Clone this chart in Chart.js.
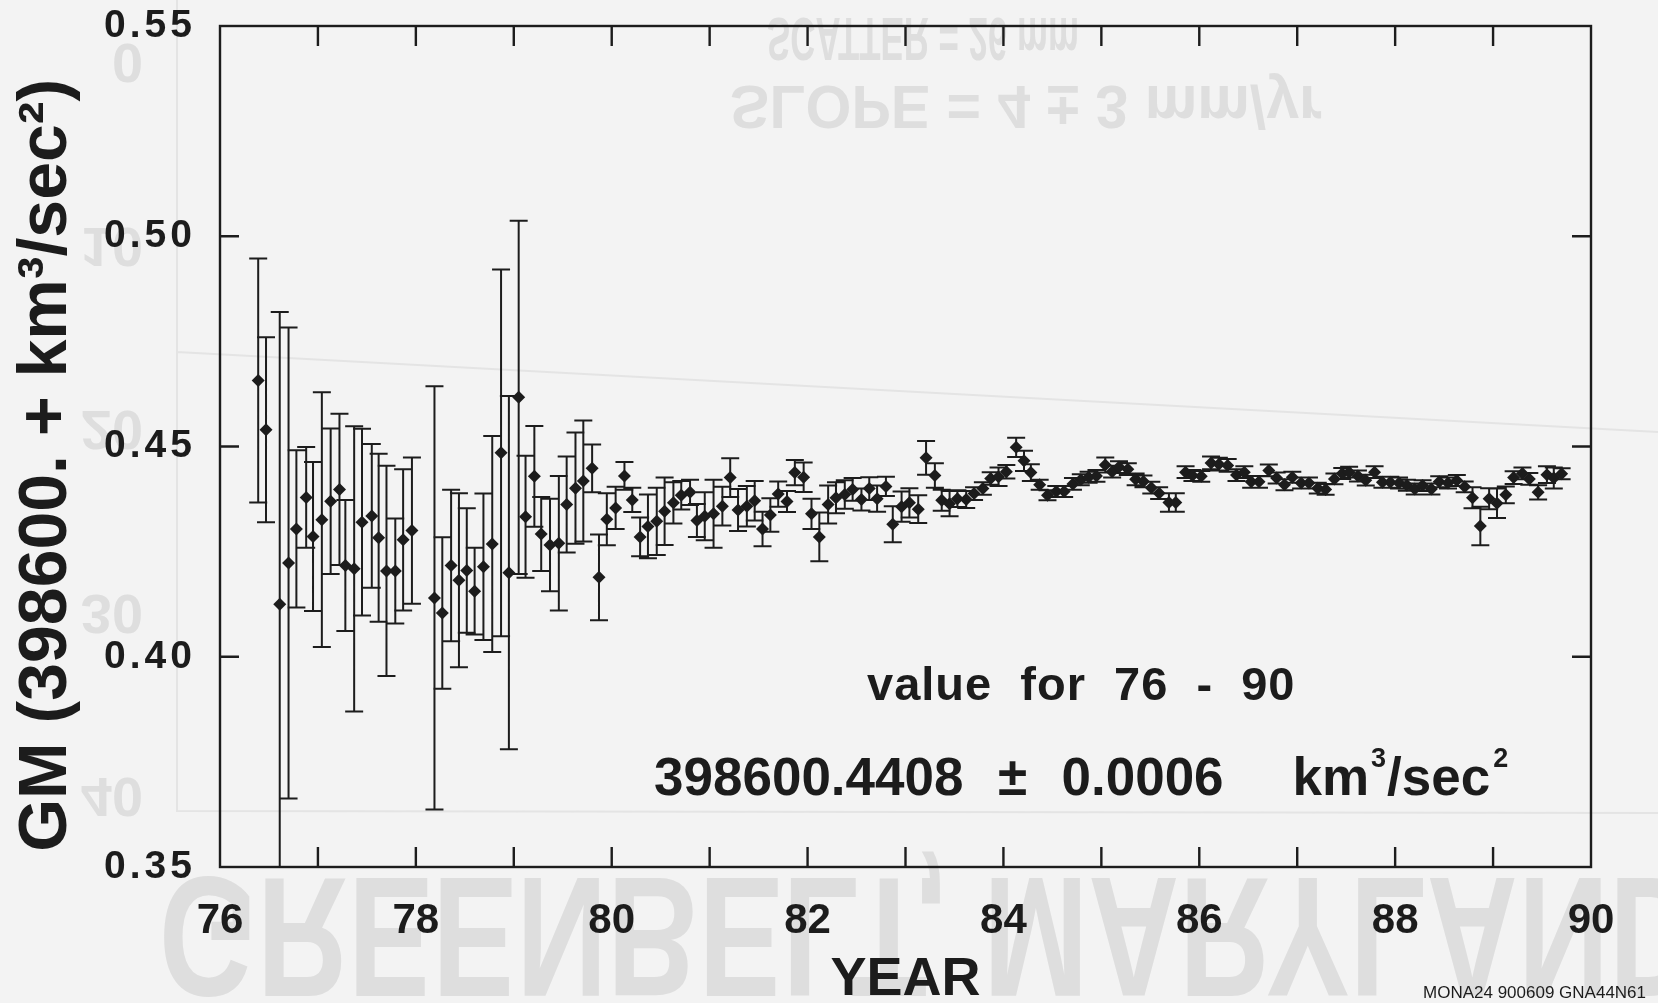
<!DOCTYPE html>
<html>
<head>
<meta charset="utf-8">
<title>GM 1976-1990</title>
<script src="https://cdn.jsdelivr.net/npm/chart.js@4.4.0/dist/chart.umd.min.js"></script>
<style>
    html, body { margin: 0; padding: 0; background: #f3f3f3; }
    canvas { display: block; }
</style>
</head>
<body>
<canvas id="gm_chart" width="1658" height="1003"></canvas>
<script>
// monthly solutions, year (19xx)
var years = [
    76.39, 76.47, 76.61, 76.70, 76.78, 76.88, 76.95, 77.04, 77.13, 77.22,
    77.28, 77.37, 77.45, 77.55, 77.62, 77.70, 77.79, 77.87, 77.96,
    78.19, 78.27, 78.36, 78.44, 78.52, 78.60, 78.69, 78.78, 78.87, 78.95,
    79.05, 79.12, 79.21, 79.28, 79.37, 79.46, 79.54, 79.63, 79.71, 79.80,
    79.87, 79.95, 80.04, 80.13, 80.21, 80.29, 80.37, 80.46, 80.54, 80.63,
    80.71, 80.80, 80.87, 80.95, 81.04, 81.13, 81.21, 81.29, 81.38, 81.46,
    81.54, 81.62, 81.70, 81.79, 81.87, 81.96, 82.04, 82.12, 82.21, 82.29,
    82.38, 82.46, 82.55, 82.63, 82.71, 82.80, 82.87, 82.96, 83.04, 83.13,
    83.21, 83.30, 83.37, 83.45, 83.53, 83.62, 83.70, 83.79, 83.87, 83.95,
    84.03, 84.13, 84.21, 84.28, 84.37, 84.45, 84.54, 84.62, 84.71, 84.79,
    84.87, 84.95, 85.04, 85.11, 85.18, 85.27, 85.35, 85.43, 85.51, 85.59,
    85.69, 85.76,
    85.86, 85.93, 86.02, 86.12, 86.20, 86.29, 86.38, 86.46, 86.53, 86.61,
    86.71, 86.79, 86.87, 86.95, 87.04, 87.12, 87.21, 87.29, 87.38, 87.46,
    87.53, 87.62, 87.70, 87.79, 87.87, 87.95, 88.04, 88.12, 88.20, 88.28,
    88.37, 88.45, 88.54, 88.63, 88.71, 88.79, 88.87, 88.96, 89.04, 89.13,
    89.21, 89.30, 89.37, 89.46, 89.55, 89.62, 89.70
];
// GM - 398600 (km^3/sec^2)
var gmValues = [
    0.4657, 0.4540, 0.4125, 0.4223, 0.4304, 0.4379, 0.4286, 0.4326, 0.4370, 0.4398,
    0.4217, 0.4209, 0.4320, 0.4335, 0.4283, 0.4204, 0.4204, 0.4278, 0.4300,
    0.4140, 0.4104, 0.4217, 0.4182, 0.4205, 0.4156, 0.4214, 0.4268, 0.4485, 0.4200,
    0.4617, 0.4333, 0.4429, 0.4292, 0.4266, 0.4270, 0.4362, 0.4401, 0.4418, 0.4448,
    0.4189, 0.4327, 0.4354, 0.4430, 0.4373, 0.4285, 0.4310, 0.4322, 0.4346, 0.4366,
    0.4384, 0.4391, 0.4324, 0.4334, 0.4340, 0.4358, 0.4426, 0.4349, 0.4358, 0.4371,
    0.4304, 0.4337, 0.4387, 0.4369, 0.4438, 0.4427, 0.4340, 0.4285, 0.4362, 0.4378,
    0.4386, 0.4398, 0.4374, 0.4400, 0.4376, 0.4405, 0.4315, 0.4357, 0.4366, 0.4351,
    0.4473, 0.4431, 0.4372, 0.4364, 0.4376, 0.4374, 0.4388, 0.4400, 0.4424, 0.4428,
    0.4440, 0.4498, 0.4466, 0.4438, 0.4409, 0.4384, 0.4393, 0.4393, 0.4411, 0.4421,
    0.4427, 0.4430, 0.4456, 0.4440, 0.4451, 0.4446, 0.4422, 0.4417, 0.4402, 0.4389,
    0.4367, 0.4367,
    0.4439, 0.4431, 0.4429, 0.4461, 0.4458, 0.4455, 0.4432, 0.4439, 0.4416, 0.4416,
    0.4443, 0.4425, 0.4409, 0.4427, 0.4413, 0.4413, 0.4401, 0.4398, 0.4423, 0.4436,
    0.4439, 0.4430, 0.4420, 0.4439, 0.4415, 0.4415, 0.4413, 0.4408, 0.4399, 0.4407,
    0.4399, 0.4416, 0.4413, 0.4419, 0.4404, 0.4378, 0.4311, 0.4376, 0.4365, 0.4385,
    0.4426, 0.4436, 0.4423, 0.4391, 0.4433, 0.4425, 0.4435
];
// one sigma
var gmErrors = [
    0.0290, 0.0220, 0.0695, 0.0560, 0.0187, 0.0120, 0.0177, 0.0303, 0.0173, 0.0180,
    0.0156, 0.0339, 0.0222, 0.0171, 0.0200, 0.0250, 0.0125, 0.0168, 0.0174,
    0.0503, 0.0180, 0.0180, 0.0207, 0.0148, 0.0103, 0.0174, 0.0257, 0.0436, 0.0420,
    0.0420, 0.0145, 0.0120, 0.0088, 0.0110, 0.0160, 0.0114, 0.0132, 0.0144, 0.0057,
    0.0102, 0.0062, 0.0050, 0.0033, 0.0029, 0.0046, 0.0076, 0.0080, 0.0080, 0.0049,
    0.0034, 0.0030, 0.0039, 0.0057, 0.0081, 0.0046, 0.0046, 0.0050, 0.0048, 0.0047,
    0.0041, 0.0040, 0.0030, 0.0025, 0.0030, 0.0035, 0.0036, 0.0058, 0.0045, 0.0037,
    0.0034, 0.0027, 0.0026, 0.0027, 0.0031, 0.0023, 0.0043, 0.0036, 0.0035, 0.0033,
    0.0040, 0.0029, 0.0025, 0.0030, 0.0020, 0.0020, 0.0015, 0.0015, 0.0015, 0.0022,
    0.0016, 0.0023, 0.0024, 0.0020, 0.0012, 0.0012, 0.0013, 0.0013, 0.0014, 0.0013,
    0.0013, 0.0014, 0.0018, 0.0014, 0.0014, 0.0014, 0.0014, 0.0014, 0.0014, 0.0014,
    0.0022, 0.0022,
    0.0014, 0.0013, 0.0013, 0.0015, 0.0015, 0.0015, 0.0014, 0.0014, 0.0014, 0.0014,
    0.0014, 0.0013, 0.0013, 0.0013, 0.0013, 0.0013, 0.0013, 0.0013, 0.0013, 0.0013,
    0.0013, 0.0013, 0.0013, 0.0014, 0.0013, 0.0013, 0.0013, 0.0013, 0.0013, 0.0013,
    0.0013, 0.0013, 0.0013, 0.0013, 0.0013, 0.0025, 0.0046, 0.0025, 0.0035, 0.0020,
    0.0015, 0.0014, 0.0014, 0.0017, 0.0020, 0.0025, 0.0013
];

var yearMarks = [76, 77, 78, 79, 80, 81, 82, 83, 84, 85, 86, 87, 88, 89, 90];
var yearLabels = [76, 78, 80, 82, 84, 86, 88, 90];
var gmTicks = [0.35, 0.40, 0.45, 0.50, 0.55];

var ink = '#1c1c1c';
var ghost = '#dedede';
var sans = '"Liberation Sans", Arial, Helvetica, sans-serif';

// 뒷면 비침 글자 (상하 반전)
function ghostText(ctx, text, x0, x1, yTop, capH) {
    ctx.font = 'bold ' + (capH / 0.716) + 'px ' + sans;
    var w = ctx.measureText(text).width;
    ctx.save();
    ctx.translate(x0, yTop);
    ctx.scale(x1 ? (x1 - x0) / w : 1, -1);
    ctx.textAlign = x1 ? 'left' : 'right';
    ctx.textBaseline = 'alphabetic';
    ctx.fillText(text, 0, 0);
    ctx.restore();
}

var paperPlugin = {
    id: 'paper',
    beforeDraw: function (chart) {
        var ctx = chart.ctx;
        ctx.save();
        ctx.letterSpacing = '0px';
        ctx.fillStyle = '#f3f3f3';
        ctx.fillRect(0, 0, chart.width, chart.height);
        ctx.fillStyle = ghost;
        ghostText(ctx, 'GREENBELT, MARYLAND', 159, 1700, 878, 122);
        ghostText(ctx, 'SCATTER = 26 mm', 767, 1079, 18, 44);
        ghostText(ctx, 'SLOPE = 4 \u00b1 3 mm/yr', 730, 1322, 86, 44);
        var ghostNums = ['0', '10', '20', '30', '40'];
        for (var i = 0; i < ghostNums.length; i++) {
            ghostText(ctx, ghostNums[i], 143, null, 44 + i * 183.5, 40);
        }
        ctx.strokeStyle = '#e4e4e4';
        ctx.lineWidth = 2;
        ctx.beginPath();
        ctx.moveTo(177, 0);
        ctx.lineTo(177, 811);
        ctx.lineTo(1658, 813);
        ctx.moveTo(177, 352);
        ctx.lineTo(1658, 432);
        ctx.stroke();
        ctx.restore();
    }
};

var errorBarPlugin = {
    id: 'errorBars',
    beforeDatasetsDraw: function (chart) {
        var ctx = chart.ctx, xs = chart.scales.x, ys = chart.scales.y, a = chart.chartArea;
        ctx.save();
        ctx.beginPath();
        ctx.rect(a.left, a.top, a.right - a.left, a.bottom - a.top);
        ctx.clip();
        ctx.strokeStyle = ink;
        ctx.lineWidth = 2;
        ctx.beginPath();
        for (var i = 0; i < years.length; i++) {
            var px = xs.getPixelForValue(years[i]);
            var top = ys.getPixelForValue(gmValues[i] + gmErrors[i]);
            var bot = ys.getPixelForValue(gmValues[i] - gmErrors[i]);
            ctx.moveTo(px, top); ctx.lineTo(px, bot);
            ctx.moveTo(px - 9, top); ctx.lineTo(px + 9, top);
            ctx.moveTo(px - 9, bot); ctx.lineTo(px + 9, bot);
        }
        ctx.stroke();
        ctx.restore();
    },
    afterDatasetsDraw: function (chart) {
        // y축 눈금 글자만 자간을 넓게 (ticks.z:1 이라 이 다음에 그려짐)
        chart.ctx.letterSpacing = '4px';
    }
};

var framePlugin = {
    id: 'frame',
    afterDraw: function (chart) {
        var ctx = chart.ctx, a = chart.chartArea, xs = chart.scales.x, ys = chart.scales.y;
        ctx.save();
        ctx.letterSpacing = '0px';
        ctx.strokeStyle = ink;
        ctx.lineWidth = 2.4;
        ctx.strokeRect(a.left, a.top, a.right - a.left, a.bottom - a.top);
        ctx.beginPath();
        xs.ticks.forEach(function (t) {
            var px = xs.getPixelForValue(t.value);
            if (px <= a.left + 1 || px >= a.right - 1) return;
            ctx.moveTo(px, a.bottom); ctx.lineTo(px, a.bottom - 20);
            ctx.moveTo(px, a.top); ctx.lineTo(px, a.top + 20);
        });
        ys.ticks.forEach(function (t) {
            var py = ys.getPixelForValue(t.value);
            if (py <= a.top + 1 || py >= a.bottom - 1) return;
            ctx.moveTo(a.left, py); ctx.lineTo(a.left + 19, py);
            ctx.moveTo(a.right, py); ctx.lineTo(a.right - 19, py);
        });
        ctx.stroke();

        // 평균값 주석
        ctx.fillStyle = ink;
        ctx.textAlign = 'left';
        ctx.textBaseline = 'alphabetic';
        ctx.letterSpacing = '1px';
        ctx.font = 'bold 47px ' + sans;
        ctx.fillText('value  for  76  -  90', 867, 700);
        ctx.letterSpacing = '0px';
        ctx.wordSpacing = '2.5px';
        ctx.font = 'bold 53px ' + sans;
        var s1 = '398600.4408  \u00b1  0.0006    km';
        ctx.fillText(s1, 654, 795);
        var xKm = 654 + ctx.measureText(s1).width;
        ctx.wordSpacing = '0px';
        ctx.fillText('/sec', xKm + 18, 795);
        var xSec = xKm + 18 + ctx.measureText('/sec').width;
        ctx.font = 'bold 27px ' + sans;
        ctx.fillText('3', xKm + 2, 767);
        ctx.fillText('2', xSec + 3, 767);

        ctx.font = '17px ' + sans;
        ctx.fillText('MONA24 900609 GNA44N61', 1423, 998);
        ctx.restore();
    }
};

var points = years.map(function (yr, i) {
    return {x: yr, y: gmValues[i]};
});

new Chart(document.getElementById('gm_chart').getContext('2d'), {
    type: 'scatter',
    data: {
        datasets: [{
            data: points,
            pointStyle: 'rectRot',
            pointRadius: 6.5,
            pointBackgroundColor: ink,
            pointBorderColor: ink,
            pointBorderWidth: 0,
            showLine: false
        }]
    },
    options: {
        responsive: false,
        animation: false,
        devicePixelRatio: 1,
        layout: {padding: {left: 0, right: 67, top: 26, bottom: 0}},
        plugins: {legend: {display: false}, tooltip: {enabled: false}},
        scales: {
            x: {
                type: 'linear',
                min: 76,
                max: 90,
                grid: {display: false},
                border: {display: false},
                afterBuildTicks: function (scale) {
                    scale.ticks = yearMarks.map(function (v) { return {value: v}; });
                },
                afterFit: function (scale) {
                    scale.height = 136;
                    scale.paddingLeft = 0;
                    scale.paddingRight = 0;
                },
                ticks: {
                    autoSkip: false,
                    maxRotation: 0,
                    padding: 21,
                    color: ink,
                    font: {family: sans, size: 42, weight: 'bold'},
                    callback: function (v) {
                        return yearLabels.indexOf(v) >= 0 ? String(v) : '';
                    }
                },
                title: {
                    display: true,
                    text: 'YEAR',
                    color: ink,
                    font: {family: sans, size: 54, weight: 'bold', lineHeight: 0.8},
                    padding: {top: 0, bottom: 1}
                }
            },
            y: {
                type: 'linear',
                min: 0.35,
                max: 0.55,
                grid: {display: false},
                border: {display: false},
                afterBuildTicks: function (scale) {
                    scale.ticks = gmTicks.map(function (v) { return {value: v}; });
                },
                afterFit: function (scale) {
                    scale.width = 220;
                    scale.paddingTop = 0;
                    scale.paddingBottom = 0;
                },
                ticks: {
                    z: 1,
                    padding: 16,
                    color: ink,
                    font: {family: sans, size: 39, weight: 'bold'},
                    callback: function (v) { return v.toFixed(2); }
                },
                title: {
                    display: true,
                    text: 'GM (398600. + km\u00b3/sec\u00b2)  ',
                    color: ink,
                    font: {family: sans, size: 68, weight: 'bold', lineHeight: 1},
                    padding: {top: 13, bottom: 0}
                }
            }
        }
    },
    plugins: [paperPlugin, errorBarPlugin, framePlugin]
});
</script>
</body>
</html>
